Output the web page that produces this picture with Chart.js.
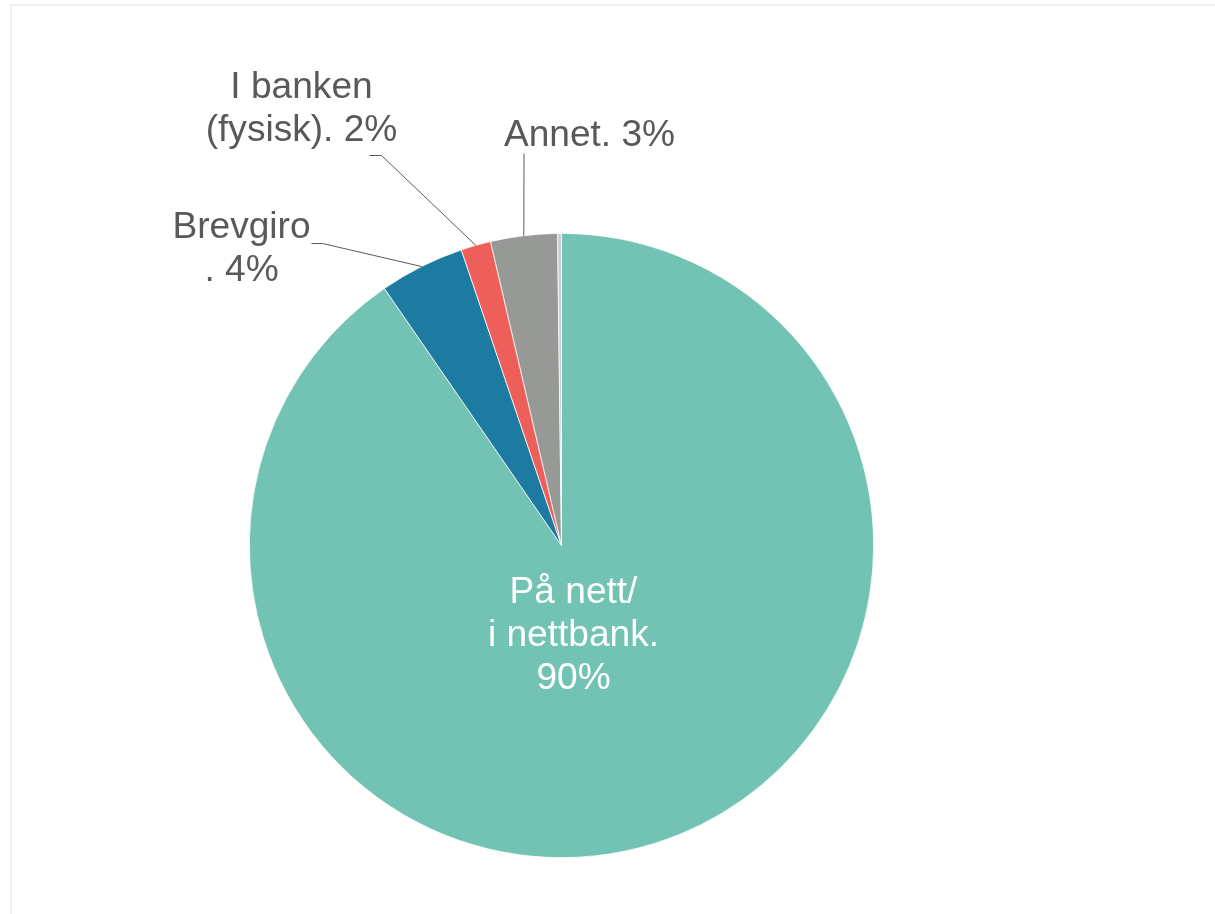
<!DOCTYPE html>
<html>
<head>
<meta charset="utf-8">
<script src="https://cdn.jsdelivr.net/npm/chart.js@4.4.1/dist/chart.umd.min.js"></script>
<style>
  html, body { margin: 0; padding: 0; background: #ffffff; }
  #wrap { position: relative; width: 1215px; height: 914px; }
</style>
</head>
<body>
<div id="wrap"><canvas id="c" width="1215" height="914"></canvas></div>
<script>
// ---- data ----
const categories = ["På nett/ i nettbank", "Brevgiro", "I banken (fysisk)", "Annet", "Ubesvart"];
const values = [90.4, 4.4, 1.55, 3.45, 0.2];
const labelLines = [
  ["På nett/", "i nettbank.", "90%"],
  ["Brevgiro", ". 4%"],
  ["I banken", "(fysisk). 2%"],
  ["Annet. 3%"],
  []
];
const colors = ["#72C3B4", "#1D7AA0", "#EF5F5A", "#979996", "#CDCDCD"];

// ---- label layout (style, offsets relative to pie centre) ----
const labelLayout = [
  { inside: true, dx: 12, dy: 57, color: "#FFFFFF" },
  { dx: -320, dy: -308, line: [[-250, -302], [-239, -302]] },
  { dx: -260, dy: -448, line: [[-192, -390], [-180, -390]] },
  { dx: 28, dy: -400, line: [[-37.5, -392]] },
  null
];

const FONT = '36px "Liberation Sans", Arial, sans-serif';
const X_STRETCH = 1.03;
const LINE_H = 43;

const framePlugin = {
  id: 'frame',
  beforeDraw(chart) {
    const ctx = chart.ctx;
    ctx.save();
    ctx.strokeStyle = '#EFEFEF';
    ctx.lineWidth = 2;
    ctx.strokeRect(11, 5, 1240, 950);
    ctx.restore();
  }
};

const labelsPlugin = {
  id: 'pieLabels',
  afterDraw(chart) {
    const ctx = chart.ctx;
    const meta = chart.getDatasetMeta(0);
    ctx.save();
    meta.data.forEach((arc, i) => {
      const lay = labelLayout[i];
      if (!lay) return;
      const cx = arc.x, cy = arc.y;
      const mid = (arc.startAngle + arc.endAngle) / 2;
      const ex = cx + Math.cos(mid) * arc.outerRadius;
      const ey = cy + Math.sin(mid) * arc.outerRadius;
      if (lay.line) {
        ctx.strokeStyle = '#595959';
        ctx.lineWidth = 1;
        ctx.beginPath();
        ctx.moveTo(cx + lay.line[0][0], cy + lay.line[0][1]);
        for (let k = 1; k < lay.line.length; k++) ctx.lineTo(cx + lay.line[k][0], cy + lay.line[k][1]);
        ctx.lineTo(ex, ey);
        ctx.stroke();
      }
      ctx.fillStyle = lay.color || '#595959';
      ctx.font = FONT;
      ctx.textAlign = 'center';
      ctx.textBaseline = 'alphabetic';
      labelLines[i].forEach((t, j) => {
        ctx.save();
        ctx.translate(cx + lay.dx, cy + lay.dy + j * LINE_H);
        ctx.scale(X_STRETCH, 1);
        ctx.fillText(t, 0, 0);
        ctx.restore();
      });
    });
    ctx.restore();
  }
};

new Chart(document.getElementById('c'), {
  type: 'pie',
  data: {
    labels: categories,
    datasets: [{
      data: values,
      backgroundColor: colors,
      borderColor: '#FFFFFF',
      borderWidth: 0.75,
      hoverOffset: 0
    }]
  },
  options: {
    responsive: false,
    animation: false,
    events: [],
    layout: { padding: { left: 249, right: 341, top: 233, bottom: 56 } },
    plugins: {
      legend: { display: false },
      tooltip: { enabled: false }
    }
  },
  plugins: [framePlugin, labelsPlugin]
});
</script>
</body>
</html>
